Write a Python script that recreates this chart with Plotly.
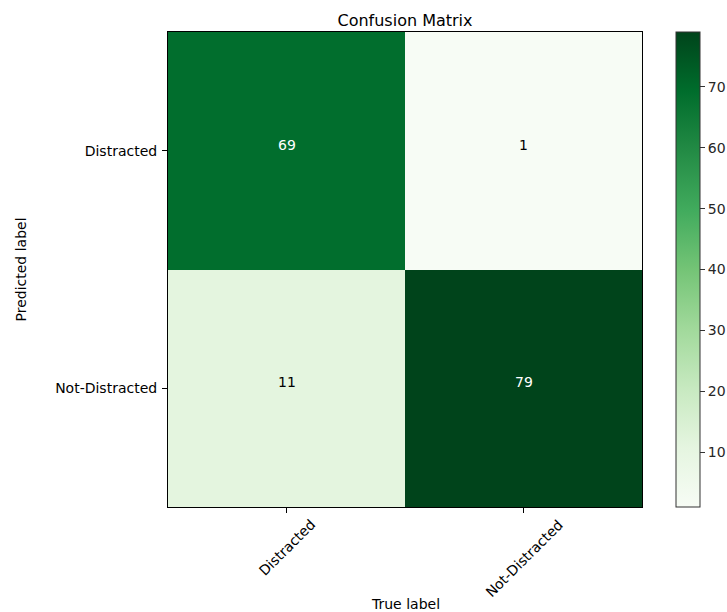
import plotly.graph_objects as go

classes = ["Distracted", "Not-Distracted"]
pred_labels = ["Distracted", "Not-Distracted"]
counts = [[69, 1],
          [11, 79]]
cbar_ticks = [10, 20, 30, 40, 50, 60, 70]

greens = ["#f7fcf5", "#e5f5e0", "#c7e9c0", "#a1d99b", "#74c476",
          "#41ab5d", "#238b45", "#006d2c", "#00441b"]
colorscale = [[i / (len(greens) - 1), c] for i, c in enumerate(greens)]

flat = [v for row in counts for v in row]
zmin, zmax = min(flat), max(flat)
thresh = zmax / 2.0

FONT = "DejaVu Sans"
FS = 14

fig = go.Figure(go.Heatmap(
    z=counts, x=classes, y=pred_labels,
    colorscale=colorscale, zmin=zmin, zmax=zmax,
    xgap=0, ygap=0, hoverinfo="skip",
    colorbar=dict(
        x=1.0717, xanchor="left", xpad=0, ypad=0,
        y=0.5, yanchor="middle", len=1, lenmode="fraction",
        thickness=24, thicknessmode="pixels",
        outlinewidth=1, outlinecolor="#333333",
        tickvals=cbar_ticks, ticks="outside", ticklen=5, tickwidth=1,
        tickcolor="#333333",
        tickfont=dict(family=FONT, size=FS, color="#262626"),
    ),
))

annotations = []
for i, yl in enumerate(pred_labels):
    for j, xl in enumerate(classes):
        v = counts[i][j]
        annotations.append(dict(
            x=xl, y=yl, xref="x", yref="y", text=str(v), showarrow=False,
            font=dict(family=FONT, size=FS,
                      color="white" if v > thresh else "black"),
            xanchor="center", yanchor="middle", yshift=6,
        ))

for j, xl in enumerate(classes):
    annotations.append(dict(
        x=xl, y=0, xref="x", yref="paper", text=xl, showarrow=False,
        textangle=-45, xanchor="center", yanchor="top", yshift=-7,
        font=dict(family=FONT, size=FS, color="black"),
    ))

annotations.append(dict(
    x=0.5, y=0, xref="paper", yref="paper", text="True label",
    showarrow=False, xanchor="center", yanchor="middle", yshift=-97,
    font=dict(family=FONT, size=FS, color="black"),
))
annotations.append(dict(
    x=0, y=0.5, xref="paper", yref="paper", text="Predicted label",
    showarrow=False, xanchor="center", yanchor="middle", xshift=-148,
    textangle=-90,
    font=dict(family=FONT, size=FS, color="black"),
))

fig.update_layout(
    width=727, height=612,
    margin=dict(l=168, r=85, t=32, b=105, autoexpand=False),
    paper_bgcolor="white", plot_bgcolor="white",
    font=dict(family=FONT, size=FS, color="black"),
    title=dict(text="Confusion Matrix", x=0.5, xref="paper", xanchor="center",
               y=1, yref="paper", yanchor="bottom", pad=dict(b=6),
               font=dict(family=FONT, size=16, color="black")),
    xaxis=dict(showticklabels=False, ticks="outside", ticklen=5, tickwidth=1,
               tickcolor="black", showline=True, linecolor="black",
               linewidth=1, mirror=True, showgrid=False, zeroline=False),
    yaxis=dict(autorange="reversed", ticks="outside", ticklen=5, tickwidth=1,
               tickcolor="black", showline=True, linecolor="black",
               linewidth=1, mirror=True, showgrid=False, zeroline=False,
               ticklabelstandoff=2,
               tickfont=dict(family=FONT, size=FS, color="black")),
    annotations=annotations,
)

fig.write_html("out.html")
